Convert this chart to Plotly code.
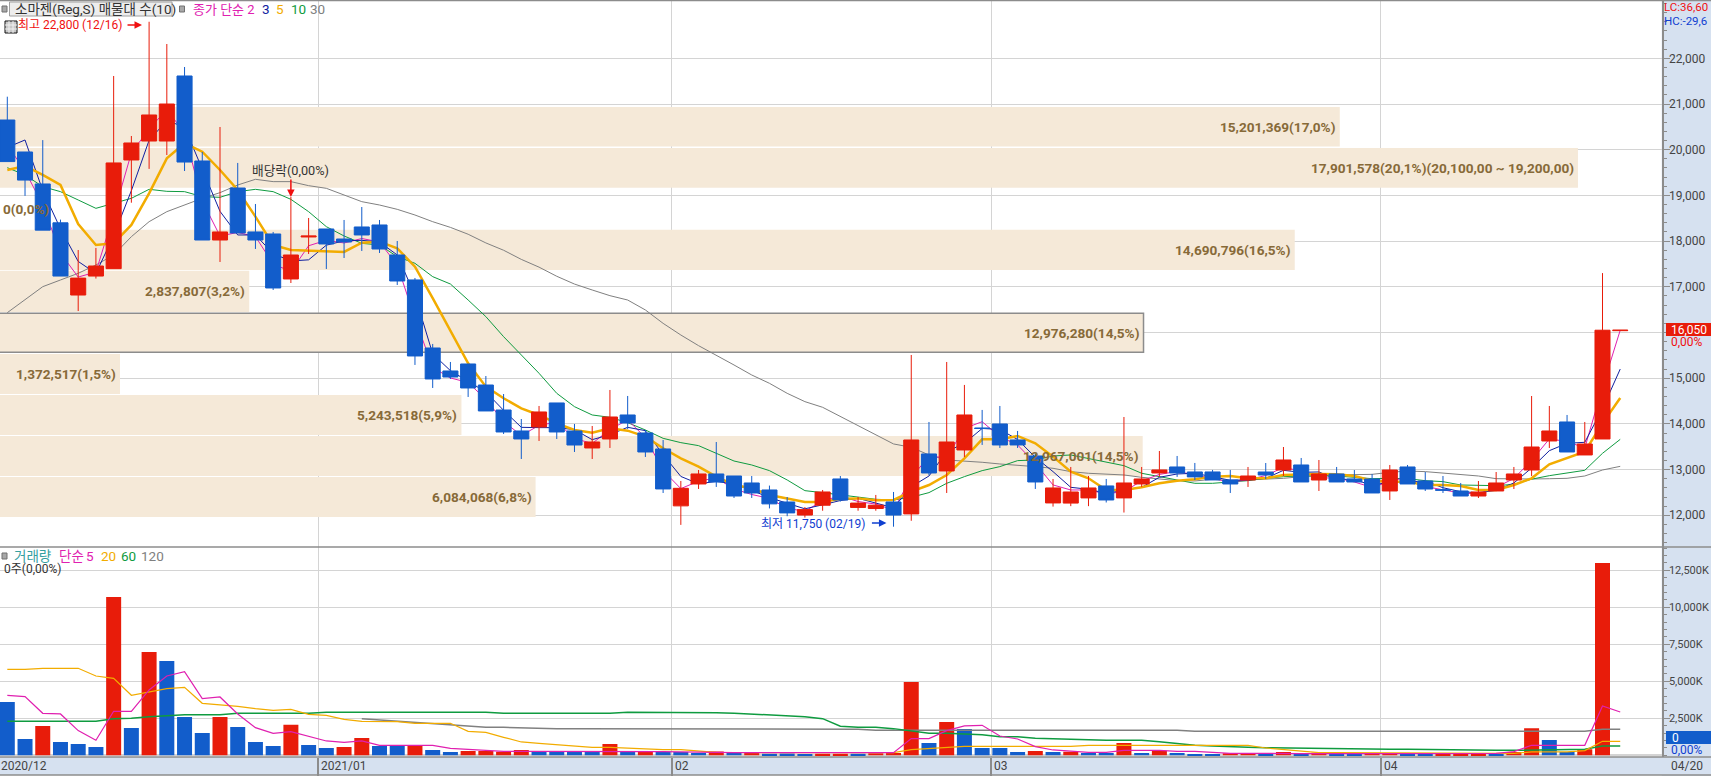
"""
Recria o gráfico de candles do 소마젠 com o painel de volume e o perfil de volume por preço.
Os valores foram lidos da imagem de referência.
"""

import plotly.graph_objects as go

FONT = "Roboto, 'Noto Sans CJK KR', sans-serif"
RED = "#E81C0A"
BLUE = "#125DCB"
MAGENTA = "#E020B0"
NAVY = "#1020A0"
ORANGE = "#F2AC00"
GREEN = "#0F9B40"
GRAY = "#808080"
BEIGE = "#F5E9D8"
BROWN = "#876A38"
GRID = "#D4D4D4"
STRIP = "#D6E1F0"
AXIS = "#8C8C8C"

W, H = 1711, 776

# candles, um por sessão (o último é o traço projetado do fechamento)
opens = [20650, 19950, 19250, 18400, 16820, 17235, 17397, 19775, 20190, 20190, 21613, 19753, 18024, 19162, 18200, 18156, 17171, 18090, 18265, 18046,
         18309, 18353, 17696, 17150, 15661, 15158, 15311, 14851, 14304, 13845, 13932, 14458, 13845, 13473, 13670, 14195, 13801, 13451, 12206, 12685,
         12904, 12860, 12707, 12554, 12291, 12005, 12220, 12795, 12172, 12148, 12291, 12030, 13342, 12970, 13429, 13910, 13998, 13648, 13298, 12270,
         12267, 12380, 12642, 12380, 12685, 12926, 13057, 12948, 12948, 12773, 12772, 12947, 12991, 13101, 12772, 12904, 12794, 12794, 12532, 13057,
         12750, 12560, 12532, 12422, 12532, 12772, 12991, 13626, 14042, 13320, 13670, 16040]
highs = [21160, 19950, 20210, 18470, 17805, 17850, 21613, 20300, 22800, 22313, 21810, 19950, 20497, 19710, 18812, 18200, 18965, 18506, 18265, 18462,
         18746, 18462, 18002, 17193, 15749, 15355, 15311, 15048, 14654, 14107, 14392, 14458, 13998, 13954, 14742, 14611, 13867, 13648, 12750, 12991,
         13604, 12860, 12860, 12650, 12400, 12180, 12554, 12860, 12400, 12445, 12510, 15508, 14042, 15355, 14852, 14305, 14392, 13845, 13350, 12795,
         13057, 12860, 12795, 14151, 13057, 13407, 13298, 13145, 12992, 12992, 13057, 13144, 13494, 13254, 13210, 13057, 12991, 12904, 13101, 13101,
         12947, 12860, 12707, 12750, 12947, 13057, 14610, 14392, 14195, 14042, 17300, 16050]
lows = [19740, 18990, 18240, 17235, 16470, 17180, 17397, 18840, 19580, 19884, 19534, 18024, 17543, 18177, 17828, 16930, 17083, 17718, 17390, 17630,
        17784, 17740, 17040, 15290, 14786, 14983, 14589, 14283, 13779, 13232, 13626, 13670, 13385, 13232, 13473, 13889, 13276, 12488, 11790, 12576,
        12620, 12379, 12379, 12150, 11980, 11950, 12100, 12300, 12100, 12100, 11750, 11880, 12880, 12488, 13276, 13539, 13473, 13473, 12576, 12190,
        12200, 12200, 12280, 12060, 12620, 12840, 12840, 12770, 12773, 12488, 12620, 12794, 12860, 12729, 12532, 12729, 12729, 12488, 12335, 12685,
        12532, 12488, 12422, 12378, 12532, 12575, 12860, 13473, 13385, 13320, 13670, 16040]
closes = [19740, 19335, 18240, 17235, 17190, 17455, 19710, 20147, 20760, 21000, 19730, 18024, 18200, 18177, 18024, 16974, 17696, 18110, 17937, 17980,
          18134, 17827, 17127, 15486, 14983, 15026, 14786, 14283, 13823, 13670, 14261, 13823, 13538, 13604, 14151, 14020, 13385, 12576, 12590, 12904,
          12729, 12422, 12488, 12250, 12052, 12124, 12510, 12335, 12267, 12220, 12005, 13648, 12926, 13604, 14195, 13900, 13539, 13539, 12729, 12598,
          12510, 12598, 12335, 12707, 12795, 12992, 12926, 12840, 12773, 12685, 12860, 12882, 13210, 12729, 12904, 12729, 12729, 12488, 12991, 12685,
          12575, 12550, 12422, 12510, 12707, 12904, 13494, 13845, 13385, 13560, 16050, 16050]

# médias móveis do preço
ma2 = [20100, 19538, 18788, 17738, 17213, 17323, 18583, 19929, 20454, 20880, 20365, 18877, 18112, 18189, 18100, 17499, 17335, 17898, 18019, 17959,
       18057, 17980, 17477, 16307, 15235, 15005, 14906, 14535, 14053, 13747, 13966, 14042, 13680, 13571, 13878, 14086, 13703, 12980, 12583, 12747,
       12817, 12576, 12455, 12369, 12151, 12088, 12317, 12423, 12301, 12244, 12113, 12827, 13287, 13265, 13900, 14048, 13720, 13539, 13134, 12664,
       12554, 12554, 12467, 12521, 12751, 12894, 12959, 12883, 12807, 12729, 12773, 12871, 13046, 12970, 12817, 12817, 12729, 12609, 12740, 12838,
       12630, 12563, 12486, 12466, 12609, 12806, 13199, 13670, 13615, 13473, 14805, 16050]
ma3 = [20050, 20213, 19105, 18270, 17555, 17293, 18118, 19104, 20206, 20636, 20497, 19585, 18651, 18134, 18134, 17725, 17565, 17590, 17911, 18006,
       18017, 17980, 17696, 16813, 15532, 15165, 14932, 14698, 14297, 13925, 13918, 13918, 13874, 13655, 13764, 13925, 13852, 13327, 12850, 12690,
       12741, 12685, 12546, 12387, 12263, 12142, 12229, 12323, 12371, 12274, 12164, 12624, 12860, 13393, 13575, 13900, 13878, 13659, 13269, 12955,
       12612, 12569, 12481, 12547, 12612, 12831, 12904, 12919, 12846, 12766, 12773, 12809, 12984, 12940, 12948, 12787, 12787, 12649, 12736, 12721,
       12750, 12603, 12516, 12494, 12546, 12707, 13035, 13414, 13575, 13597, 14332, 15200]
ma5 = [19556, 19644, 19447, 19228, 18374, 17915, 17951, 18353, 19045, 19811, 20140, 19957, 19556, 19118, 18535, 17915, 17805, 17791, 17762, 17762,
       17966, 17988, 17842, 17441, 16750, 16055, 15326, 14815, 14560, 14341, 14195, 14013, 13867, 13808, 13903, 13852, 13721, 13466, 13247, 13064,
       12845, 12663, 12590, 12444, 12371, 12290, 12290, 12360, 12370, 12330, 12335, 12518, 12663, 12882, 13247, 13663, 13663, 13736, 13575, 13283,
       12955, 12810, 12554, 12554, 12612, 12700, 12758, 12787, 12846, 12860, 12809, 12809, 12882, 12896, 12904, 12896, 12860, 12758, 12736, 12736,
       12663, 12663, 12641, 12553, 12553, 12663, 12809, 13115, 13247, 13392, 14012, 14567]
ma10 = [19607, 19447, 19191, 19082, 18900, 18717, 18827, 18936, 19133, 19089, 19082, 18973, 18958, 19082, 19133, 19082, 18914, 18644, 18316, 18112,
        17951, 17915, 17660, 17514, 17222, 17061, 16711, 16347, 15909, 15508, 15107, 14669, 14377, 14195, 14144, 14027, 13867, 13684, 13590, 13524,
        13356, 13188, 13101, 12977, 12773, 12539, 12495, 12445, 12400, 12350, 12335, 12394, 12496, 12700, 12846, 12977, 13065, 13196, 13211, 13298,
        13320, 13247, 13174, 13086, 12919, 12846, 12773, 12700, 12700, 12729, 12758, 12809, 12845, 12860, 12860, 12860, 12831, 12801, 12809, 12801,
        12758, 12736, 12663, 12648, 12648, 12677, 12790, 12867, 12933, 12984, 13356, 13662]
ma30 = [16434, 16726, 17003, 17149, 17295, 17477, 17696, 18097, 18425, 18644, 18790, 18936, 19060, 19228, 19352, 19301, 19301, 19213, 19155, 19009,
        18863, 18790, 18695, 18571, 18425, 18300, 18150, 17960, 17800, 17600, 17430, 17230, 17060, 16930, 16806, 16711, 16493, 16200, 15945, 15712,
        15508, 15289, 15070, 14888, 14669, 14487, 14363, 14159, 13955, 13758, 13561, 13488, 13320, 13210, 13189, 13160, 13123, 13101, 13065, 13028,
        12955, 12919, 12897, 12882, 12831, 12787, 12758, 12751, 12787, 12758, 12773, 12787, 12809, 12845, 12875, 12882, 12882, 12896, 12940, 12969,
        12955, 12918, 12882, 12860, 12801, 12794, 12794, 12800, 12809, 12860, 12991, 13071]

# volume em milhares de ações (o traço projetado não tem barra)
volume = [3603, 1103, 1982, 901, 766, 563, 10696, 1847, 6980, 6373, 2590, 1509, 2590, 1914, 901, 631, 2072, 698, 495, 563,
          1171, 631, 631, 631, 360, 225, 293, 293, 248, 360, 248, 248, 248, 248, 766, 225, 225, 225, 225, 158,
          250, 150, 200, 100, 120, 90, 113, 113, 113, 135, 158, 4954, 833, 2252, 1779, 495, 495, 225, 293, 225,
          248, 158, 158, 833, 158, 315, 158, 90, 90, 135, 135, 113, 225, 90, 180, 113, 113, 135, 135, 90,
          90, 113, 90, 68, 45, 225, 1824, 1036, 225, 405, 12994, 0]
volume_up = [0, 0, 1, 0, 0, 0, 1, 0, 1, 0, 0, 0, 1, 0, 0, 0, 1, 0, 0, 1,
             1, 0, 0, 1, 0, 0, 1, 1, 1, 1, 0, 0, 0, 0, 1, 0, 1, 0, 0, 0,
             1, 0, 1, 0, 0, 0, 1, 1, 0, 1, 1, 1, 0, 1, 0, 0, 0, 0, 1, 0,
             1, 0, 0, 1, 0, 1, 0, 0, 0, 1, 1, 0, 1, 0, 1, 0, 0, 1, 1, 0,
             0, 1, 1, 1, 0, 1, 1, 0, 0, 1, 1, 1]
vol_ma5 = [4054, 3964, 2838, 2793, 1667, 1014, 2973, 2973, 4414, 5360, 5653, 3829, 3941, 2793, 1869, 1486, 1599, 1261, 968, 878,
           968, 676, 676, 676, 676, 473, 405, 338, 270, 270, 270, 270, 270, 270, 300, 270, 250, 250, 230, 200,
           190, 180, 180, 180, 180, 180, 180, 180, 180, 180, 180, 1126, 1126, 1667, 1982, 2027, 1306, 1103, 585, 360,
           293, 203, 203, 338, 338, 338, 270, 270, 203, 135, 135, 113, 113, 113, 113, 113, 113, 90, 90, 90,
           90, 90, 90, 90, 135, 248, 676, 676, 676, 676, 3333, 2928]
vol_ma20 = [5810, 5810, 5878, 5878, 5878, 5360, 5203, 4054, 4302, 4504, 4594, 3513, 3401, 3310, 3153, 3040, 3108, 2770, 2703, 2432,
            2297, 2297, 2274, 2162, 2162, 2162, 1621, 1554, 1216, 901, 811, 721, 608, 541, 541, 473, 428, 383, 383, 315,
            200, 190, 180, 180, 180, 180, 180, 180, 180, 180, 180, 383, 450, 541, 608, 608, 608, 608, 608, 608,
            608, 676, 676, 676, 676, 676, 676, 676, 676, 676, 676, 495, 405, 315, 180, 180, 180, 180, 180, 180,
            180, 180, 135, 135, 135, 135, 225, 225, 225, 315, 946, 946]
vol_ma60 = [2297, 2297, 2297, 2297, 2297, 2297, 2477, 2500, 2612, 2702, 2747, 2747, 2747, 2838, 2838, 2838, 2838, 2838, 2905, 2905,
            2905, 2905, 2905, 2905, 2905, 2905, 2905, 2905, 2838, 2838, 2838, 2838, 2838, 2838, 2838, 2905, 2905, 2905, 2905, 2905,
            2883, 2838, 2792, 2725, 2657, 2612, 2477, 1959, 1892, 1892, 1802, 1621, 1486, 1486, 1464, 1396, 1261, 1261, 1149, 1103,
            1081, 1036, 1013, 1013, 1013, 923, 788, 676, 631, 563, 540, 518, 495, 473, 473, 450, 405, 405, 405, 405,
            383, 383, 360, 360, 338, 338, 360, 360, 360, 405, 630, 630]
vol_ma120 = [None] * 20 + [2477, 2387, 2297, 2207, 2162, 2050, 1982, 1892, 1892, 1847, 1802, 1802, 1802, 1802, 1802] + [1756] * 14 + [1689] * 18 + [1621] * 23 + [1756, 1756]

# perfil de volume: faixa de preço e quantidade negociada
zone_top = [20934, 20037, 19169, 18249, 17352, 16420, 15530, 14632, 13735, 12838]
zone_bottom = [20070, 19169, 18249, 17368, 16449, 15567, 14654, 13757, 12860, 11963]
zone_volume = [15201369, 17901578, 0, 14690796, 2837807, 12976280, 1372517, 5243518, 12967001, 6084068]
zone_text = ["15,201,369(17,0%)", "17,901,578(20,1%)(20,100,00 ~ 19,200,00)", "0(0,0%)", "14,690,796(16,5%)", "2,837,807(3,2%)",
             "12,976,280(14,5%)", "1,372,517(1,5%)", "5,243,518(5,9%)", "12,967,001(14,5%)", "6,084,068(6,8%)"]

month_pos = [17.55, 37.5, 55.5, 77.5]
month_text = ["2021/01", "02", "03", "04"]

# o rótulo de 16,000 fica escondido pela etiqueta do último preço
price_ticks = [12000, 13000, 14000, 15000, 16000, 17000, 18000, 19000, 20000, 21000, 22000]
price_tick_text = ["12,000", "13,000", "14,000", "15,000", "", "17,000", "18,000", "19,000", "20,000", "21,000", "22,000"]
volume_ticks = [2500, 5000, 7500, 10000, 12500]
volume_tick_text = ["2,500K", "5,000K", "7,500K", "10,000K", "12,500K"]

sessions = list(range(len(closes)))
X_RANGE = [-0.412, 93.34]
MAX_ZONE = 18851000


def px(x):
    return x / W


def py(y):
    return 1 - y / H


def label(x, y, text, color, size=12):
    return dict(x=px(x), y=py(y), xref="paper", yref="paper", text=text, showarrow=False, xanchor="left", yanchor="middle",
                font=dict(family=FONT, size=size, color=color), bgcolor="rgba(0,0,0,0)", borderpad=0)


def add_traces(fig):
    # faixas do perfil no eixo de baixo, médias em x3 e candles em x4 para os candles cobrirem as linhas
    fig.add_trace(go.Bar(
        y=[(t + b) / 2 for t, b in zip(zone_top, zone_bottom)],
        x=zone_volume,
        width=[t - b for t, b in zip(zone_top, zone_bottom)],
        orientation="h",
        marker=dict(color=BEIGE, line=dict(color=[AXIS if v == 12976280 else BEIGE for v in zone_volume],
                                           width=[1.5 if v == 12976280 else 0 for v in zone_volume])),
        xaxis="x", yaxis="y", hoverinfo="skip",
    ))
    for values, color, width in [(ma30, GRAY, 1), (ma10, GREEN, 1), (ma2, MAGENTA, 1), (ma3, NAVY, 1), (ma5, ORANGE, 2.5)]:
        fig.add_trace(go.Scatter(x=sessions, y=values, mode="lines", line=dict(color=color, width=width), xaxis="x3", yaxis="y", hoverinfo="skip"))
    fig.add_trace(go.Candlestick(
        x=sessions, open=opens, high=highs, low=lows, close=closes,
        increasing=dict(line=dict(color=RED, width=1), fillcolor=RED),
        decreasing=dict(line=dict(color=BLUE, width=1), fillcolor=BLUE),
        whiskerwidth=0, xaxis="x4", yaxis="y", hoverinfo="skip",
    ))
    # painel de volume
    fig.add_trace(go.Bar(x=sessions, y=volume, width=0.846, marker=dict(color=[RED if u else BLUE for u in volume_up], line=dict(width=0)),
                         xaxis="x2", yaxis="y2", hoverinfo="skip"))
    for values, color, width in [(vol_ma120, GRAY, 1.5), (vol_ma60, GREEN, 1.5), (vol_ma20, ORANGE, 1.2), (vol_ma5, MAGENTA, 1.2)]:
        fig.add_trace(go.Scatter(x=sessions, y=values, mode="lines", line=dict(color=color, width=width), xaxis="x2", yaxis="y2", hoverinfo="skip"))


def paper_rect(x0, x1, y0, y1, fill, line=None, layer="above"):
    rect = dict(type="rect", xref="paper", yref="paper", x0=px(x0), x1=px(x1), y0=py(y1), y1=py(y0), fillcolor=fill, layer=layer)
    rect["line"] = dict(color=line, width=1) if line else dict(width=0)
    return rect


def paper_line(x0, x1, y0, y1, color=AXIS, width=1.5):
    return dict(type="line", xref="paper", yref="paper", x0=px(x0), x1=px(x1), y0=py(y0), y1=py(y1), line=dict(color=color, width=width), layer="above")


def build_shapes():
    shapes = [
        paper_rect(1661.7, W, 0, H, STRIP, layer="below"),
        paper_rect(0, W, 757, 775, STRIP, layer="below"),
        paper_line(0, W, 757, 757),
        paper_line(0, W, 775, 775),
        paper_line(0, W, 0.5, 0.5),
        paper_line(0, W, 547, 547),
        # caixas de cabeçalho
        paper_rect(9.5, 172, 2, 16, "#EDEDED", "#A0A0A0"),
        paper_rect(2, 7, 6, 12, "#A8A8A8", "#707070"),
        paper_rect(179.5, 184.5, 6, 12, "#A8A8A8", "#707070"),
        paper_rect(2, 7, 553, 559, "#A8A8A8", "#707070"),
        # ícone de tabela
        paper_rect(5, 17, 21, 33, "#C8C8C8", "#111111"),
        paper_line(5, 17, 25, 25, "#F0F0F0", 1),
        paper_line(5, 17, 29, 29, "#F0F0F0", 1),
        paper_line(9, 9, 21, 33, "#F0F0F0", 1),
        paper_line(13, 13, 21, 33, "#F0F0F0", 1),
        # etiquetas do último preço e volume
        paper_rect(1666, W, 323, 336, RED),
        paper_rect(1666, W, 731, 744, BLUE),
    ]
    return shapes


def build_annotations():
    notes = [
        label(14, 9.5, "소마젠(Reg,S) 매물대 수(10)", "#333333", 13.5),
        label(192, 9.5, "종가 단순 2", MAGENTA, 13),
        label(261, 9.5, "3", NAVY, 13.5),
        label(275, 9.5, "5", ORANGE, 13.5),
        label(290, 9.5, "10", GREEN, 13.5),
        label(309, 9.5, "30", GRAY, 13.5),
        label(17, 24.5, "최고 22,800 (12/16)", "#F01010", 12),
        label(251, 170, "배당락(0,00%)", "#333333", 12.7),
        label(760, 524, "최저 11,750 (02/19)", "#1040D0", 12),
        label(13, 556, "거래량", "#35A0A0", 13.5),
        label(58, 556, "단순", MAGENTA, 13.5),
        label(85, 556, "5", MAGENTA, 13.5),
        label(100, 556, "20", ORANGE, 13.5),
        label(120, 556, "60", GREEN, 13.5),
        label(140, 556, "120", GRAY, 13.5),
        label(3, 569, "0주(0,00%)", "#333333", 12),
        label(1663, 7.5, "LC:36,60", "#F01010", 11.5),
        label(1663, 21, "HC:-29,6", "#1040D0", 11.5),
        label(1670, 329.5, "16,050", "#FFFFFF", 12),
        label(1670, 342, "0,00%", "#F01010", 12),
        label(1671, 737.5, "0", "#FFFFFF", 12),
        label(1670, 749.5, "0,00%", "#1040D0", 12),
        label(0, 766, "2020/12", "#444444", 12),
        label(1670, 766, "04/20", "#444444", 12),
    ]
    for pos, text in zip(month_pos, month_text):
        notes.append(dict(x=pos, y=py(766), xref="x3", yref="paper", text=text, showarrow=False, xanchor="left", yanchor="middle", xshift=1,
                          font=dict(family=FONT, size=12, color="#444444")))
    for top, bottom, vol, text in zip(zone_top, zone_bottom, zone_volume, zone_text):
        empty = vol == 0
        notes.append(dict(x=vol if not empty else 12000, y=(top + bottom) / 2, xref="x", yref="y", text=f"<b>{text}</b>", showarrow=False,
                          xanchor="left" if empty else "right", yanchor="middle", xshift=1 if empty else -2,
                          font=dict(family=FONT, size=13.6, color=BROWN)))
    # setas do máximo, do mínimo e da data-ex
    arrow = dict(showarrow=True, arrowhead=2, arrowsize=1, arrowwidth=1.5, text="", xref="x3", yref="y")
    notes.append(dict(x=7.6, y=22730, ax=-16, ay=0, arrowcolor="#F01010", **arrow))
    notes.append(dict(x=49.6, y=11830, ax=-16, ay=0, arrowcolor="#1040D0", **arrow))
    notes.append(dict(x=16, y=18965, ax=0, ay=-19, arrowcolor="#F01010", **arrow))
    return notes


def main() -> None:
    fig = go.Figure()
    add_traces(fig)
    x_domain = [0, 1661.7 / W]
    hidden_x = dict(domain=x_domain, range=X_RANGE, overlaying="x", anchor="y", side="bottom", visible=False, rangeslider=dict(visible=False))
    fig.update_layout(
        width=W, height=H, margin=dict(l=0, r=0, t=0, b=0, autoexpand=False), autosize=False,
        paper_bgcolor="white", plot_bgcolor="white", showlegend=False, boxgap=0.15, boxgroupgap=0, barmode="overlay",
        xaxis=dict(domain=x_domain, range=[12000, MAX_ZONE], visible=False, anchor="y"),
        xaxis3=dict(domain=x_domain, range=X_RANGE, overlaying="x", anchor="y", side="bottom",
                    tickmode="array", tickvals=month_pos, showticklabels=False, ticks="", showgrid=True, gridcolor=GRID, gridwidth=1, zeroline=False, showline=False),
        xaxis4=hidden_x,
        xaxis2=dict(domain=x_domain, range=X_RANGE, anchor="y2", tickmode="array", tickvals=month_pos, showticklabels=False,
                    ticks="outside", ticklen=18, tickcolor=AXIS, tickwidth=1.5, showgrid=True, gridcolor=GRID, gridwidth=1, zeroline=False, showline=False),
        yaxis=dict(domain=[py(547), py(1)], range=[11306, 23254], side="right", anchor="x", tickmode="array", tickvals=price_ticks, ticktext=price_tick_text,
                   ticks="outside", ticklen=6, tickcolor=AXIS, tickfont=dict(family=FONT, size=12, color="#444444"), ticklabelstandoff=-3, automargin=False,
                   showgrid=True, gridcolor=GRID, gridwidth=1, zeroline=False, showline=True, linecolor=AXIS, linewidth=2,
                   minor=dict(tickmode="linear", tick0=12000, dtick=200, ticks="outside", ticklen=3, tickcolor=AXIS, showgrid=False)),
        yaxis2=dict(domain=[py(757), py(547)], range=[-115, 14074], side="right", anchor="x2", tickmode="array", tickvals=volume_ticks, ticktext=volume_tick_text,
                    ticks="outside", ticklen=6, tickcolor=AXIS, tickfont=dict(family=FONT, size=11, color="#444444"), ticklabelstandoff=-3, automargin=False,
                    showgrid=True, gridcolor=GRID, gridwidth=1, zeroline=True, zerolinecolor=GRID, showline=True, linecolor=AXIS, linewidth=2,
                    minor=dict(tickmode="linear", tick0=0, dtick=500, ticks="outside", ticklen=3, tickcolor=AXIS, showgrid=False)),
        shapes=build_shapes(),
        annotations=build_annotations(),
    )
    # a margem padrão do body empurraria o gráfico 8 px
    fig.write_html("out.html", config={"displayModeBar": False},
                   post_script="document.body.style.margin='0';document.body.style.overflow='hidden';")


if __name__ == "__main__":
    main()
